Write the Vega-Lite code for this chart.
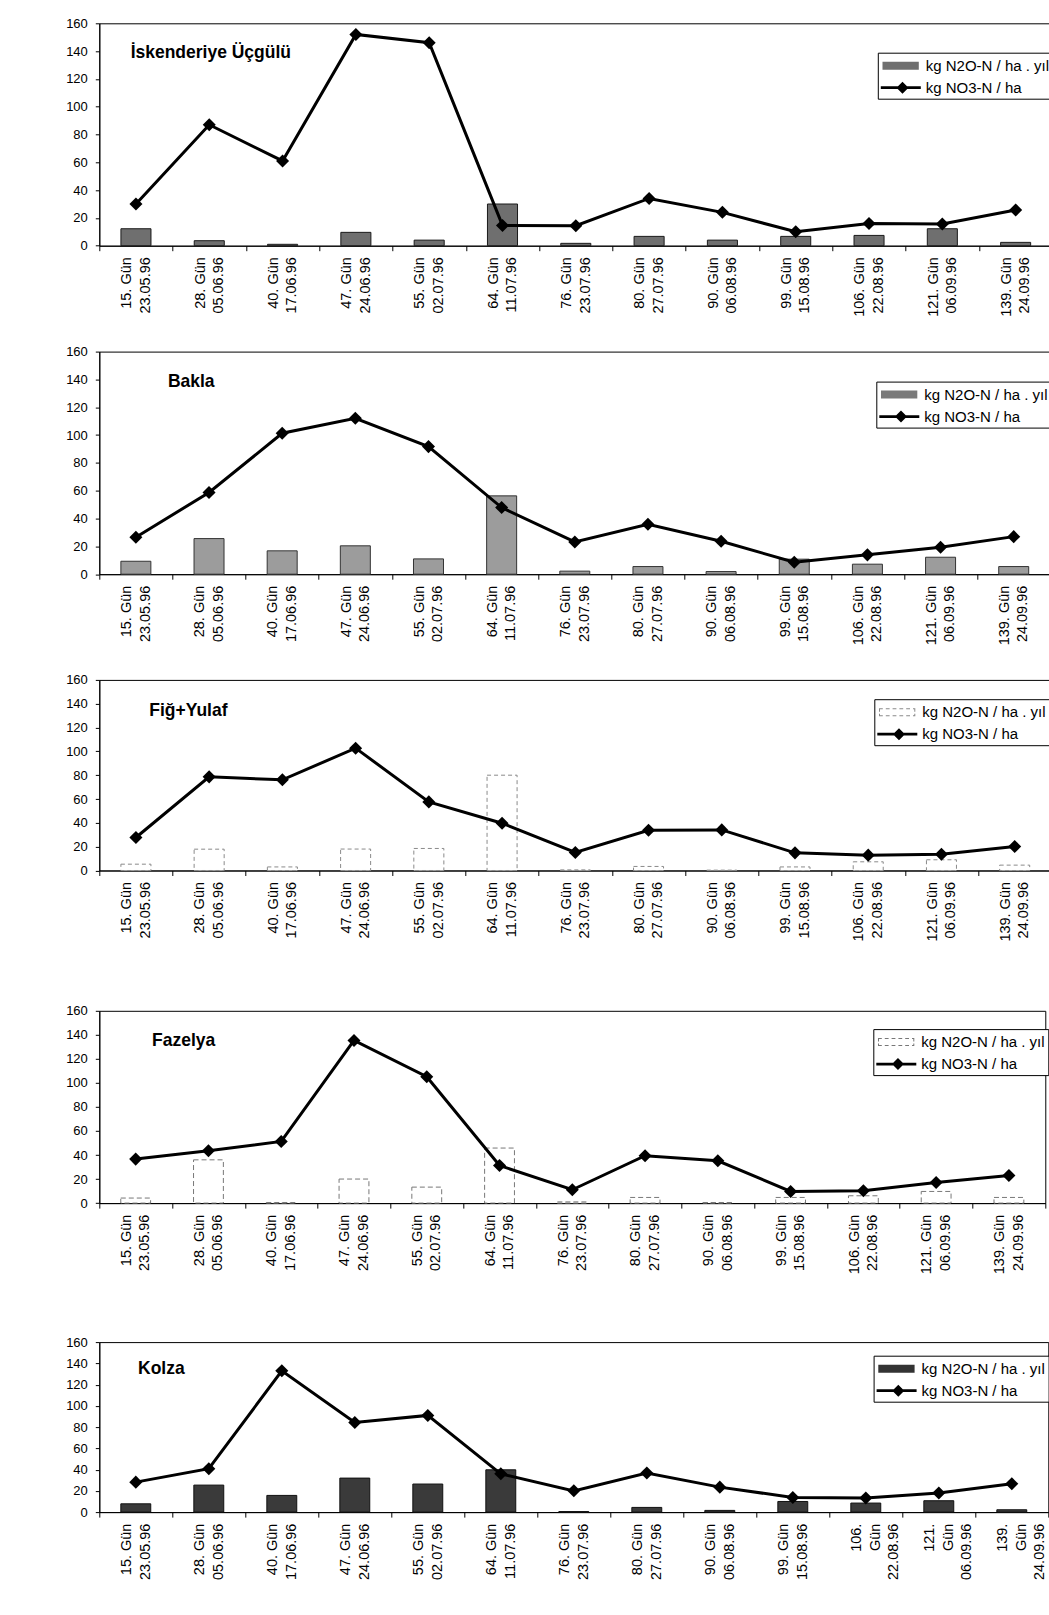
{
  "$schema": "https://vega.github.io/schema/vega-lite/v6.json",
  "background": "white",
  "padding": {"left": 64.3, "top": 16.3, "right": 0, "bottom": 0},
  "datasets": {
    "iskenderiye": [
      {"etiket": "15. Gün|23.05.96", "n2o": 12.2, "no3": 30},
      {"etiket": "28. Gün|05.06.96", "n2o": 3.6, "no3": 87},
      {"etiket": "40. Gün|17.06.96", "n2o": 1, "no3": 61},
      {"etiket": "47. Gün|24.06.96", "n2o": 9.6, "no3": 152},
      {"etiket": "55. Gün|02.07.96", "n2o": 4, "no3": 146},
      {"etiket": "64. Gün|11.07.96", "n2o": 30, "no3": 14.6},
      {"etiket": "76. Gün|23.07.96", "n2o": 1.7, "no3": 14.4},
      {"etiket": "80. Gün|27.07.96", "n2o": 6.7, "no3": 34},
      {"etiket": "90. Gün|06.08.96", "n2o": 4, "no3": 24},
      {"etiket": "99. Gün|15.08.96", "n2o": 6.7, "no3": 10},
      {"etiket": "106. Gün|22.08.96", "n2o": 7.4, "no3": 16},
      {"etiket": "121. Gün|06.09.96", "n2o": 12.2, "no3": 15.6},
      {"etiket": "139. Gün|24.09.96", "n2o": 2.4, "no3": 25.7}
    ],
    "bakla": [
      {"etiket": "15. Gün|23.05.96", "n2o": 9.3, "no3": 26.6},
      {"etiket": "28. Gün|05.06.96", "n2o": 25.6, "no3": 58.7},
      {"etiket": "40. Gün|17.06.96", "n2o": 16.8, "no3": 101.3},
      {"etiket": "47. Gün|24.06.96", "n2o": 20.4, "no3": 112.1},
      {"etiket": "55. Gün|02.07.96", "n2o": 11, "no3": 91.7},
      {"etiket": "64. Gün|11.07.96", "n2o": 56.3, "no3": 47.9},
      {"etiket": "76. Gün|23.07.96", "n2o": 2.2, "no3": 23.2},
      {"etiket": "80. Gün|27.07.96", "n2o": 5.5, "no3": 35.9},
      {"etiket": "90. Gün|06.08.96", "n2o": 1.9, "no3": 23.7},
      {"etiket": "99. Gün|15.08.96", "n2o": 10.8, "no3": 8.6},
      {"etiket": "106. Gün|22.08.96", "n2o": 7.2, "no3": 13.9},
      {"etiket": "121. Gün|06.09.96", "n2o": 12.2, "no3": 19.4},
      {"etiket": "139. Gün|24.09.96", "n2o": 5.5, "no3": 27}
    ],
    "fig_yulaf": [
      {"etiket": "15. Gün|23.05.96", "n2o": 5.3, "no3": 27.7},
      {"etiket": "28. Gün|05.06.96", "n2o": 17.9, "no3": 78.6},
      {"etiket": "40. Gün|17.06.96", "n2o": 3, "no3": 76.1},
      {"etiket": "47. Gün|24.06.96", "n2o": 18, "no3": 102.7},
      {"etiket": "55. Gün|02.07.96", "n2o": 18.5, "no3": 57.6},
      {"etiket": "64. Gün|11.07.96", "n2o": 80, "no3": 39.7},
      {"etiket": "76. Gün|23.07.96", "n2o": 0.5, "no3": 15.1},
      {"etiket": "80. Gün|27.07.96", "n2o": 3.4, "no3": 33.8},
      {"etiket": "90. Gün|06.08.96", "n2o": 0.3, "no3": 34.1},
      {"etiket": "99. Gün|15.08.96", "n2o": 3, "no3": 14.8},
      {"etiket": "106. Gün|22.08.96", "n2o": 7.3, "no3": 12.9},
      {"etiket": "121. Gün|06.09.96", "n2o": 9, "no3": 13.7},
      {"etiket": "139. Gün|24.09.96", "n2o": 4.5, "no3": 20.1}
    ],
    "fazelya": [
      {"etiket": "15. Gün|23.05.96", "n2o": 4.2, "no3": 36.6},
      {"etiket": "28. Gün|05.06.96", "n2o": 36, "no3": 43.5},
      {"etiket": "40. Gün|17.06.96", "n2o": 0.5, "no3": 51.3},
      {"etiket": "47. Gün|24.06.96", "n2o": 20, "no3": 135.3},
      {"etiket": "55. Gün|02.07.96", "n2o": 13.3, "no3": 105.1},
      {"etiket": "64. Gün|11.07.96", "n2o": 45.8, "no3": 31.3},
      {"etiket": "76. Gün|23.07.96", "n2o": 1, "no3": 11.1},
      {"etiket": "80. Gün|27.07.96", "n2o": 4.7, "no3": 39.4},
      {"etiket": "90. Gün|06.08.96", "n2o": 0.5, "no3": 35.2},
      {"etiket": "99. Gün|15.08.96", "n2o": 4.7, "no3": 9.7},
      {"etiket": "106. Gün|22.08.96", "n2o": 6.1, "no3": 10.3},
      {"etiket": "121. Gün|06.09.96", "n2o": 9.7, "no3": 17.2},
      {"etiket": "139. Gün|24.09.96", "n2o": 4.7, "no3": 23}
    ],
    "kolza": [
      {"etiket": "15. Gün|23.05.96", "n2o": 7.8, "no3": 28.2},
      {"etiket": "28. Gün|05.06.96", "n2o": 25.4, "no3": 40.8},
      {"etiket": "40. Gün|17.06.96", "n2o": 15.7, "no3": 133},
      {"etiket": "47. Gün|24.06.96", "n2o": 32, "no3": 84.4},
      {"etiket": "55. Gün|02.07.96", "n2o": 26.4, "no3": 91},
      {"etiket": "64. Gün|11.07.96", "n2o": 39.8, "no3": 36},
      {"etiket": "76. Gün|23.07.96", "n2o": 0.5, "no3": 20},
      {"etiket": "80. Gün|27.07.96", "n2o": 4.4, "no3": 36.7},
      {"etiket": "90. Gün|06.08.96", "n2o": 1.6, "no3": 23.5},
      {"etiket": "99. Gün|15.08.96", "n2o": 10, "no3": 13.8},
      {"etiket": "106. Gün|22.08.96", "n2o": 8.5, "no3": 13.2},
      {"etiket": "121. Gün|06.09.96", "n2o": 10.7, "no3": 17.9},
      {"etiket": "139. Gün|24.09.96", "n2o": 2.2, "no3": 26.7}
    ]
  },
  "config": {
    "view": {"stroke": "black", "strokeWidth": 1},
    "font": "Liberation Sans",
    "axis": {"labelFont": "Liberation Sans", "labelColor": "black", "tickColor": "black", "domainColor": "black", "grid": false, "domainWidth": 1, "tickWidth": 1},
    "axisX": {"labelAngle": 270, "labelAlign": "right", "labelBaseline": "middle", "labelFontSize": 14.5, "labelLineHeight": 18.5, "labelPadding": 6, "labelOffset": -9.25, "tickSize": 5, "tickBand": "extent", "labelOverlap": false},
    "axisY": {"labelFontSize": 13, "labelPadding": 8, "tickSize": 4, "labelOverlap": false, "tickCount": 20},
    "legend": {"direction": "vertical", "padding": 3, "rowPadding": 4, "strokeColor": "black", "fillColor": "white", "symbolSize": 400, "symbolStrokeWidth": 0, "symbolStrokeColor": "transparent", "symbolOpacity": 1, "labelOffset": 25, "labelFontSize": 15, "labelFont": "Liberation Sans", "labelColor": "black", "labelLimit": 400}
  },
  "concat": [
    {
      "concat": [
        {
          "width": 953, "height": 222.4,
          "data": {"name": "iskenderiye"},
          "layer": [
            {
              "mark": {"type": "bar", "width": {"band": 0.41}, "fill": "#6f6f6f", "stroke": "#1a1a1a", "strokeWidth": 1},
              "encoding": {
                "x": {"field": "etiket", "type": "nominal", "scale": {"domain": ["15. Gün|23.05.96","28. Gün|05.06.96","40. Gün|17.06.96","47. Gün|24.06.96","55. Gün|02.07.96","64. Gün|11.07.96","76. Gün|23.07.96","80. Gün|27.07.96","90. Gün|06.08.96","99. Gün|15.08.96","106. Gün|22.08.96","121. Gün|06.09.96","139. Gün|24.09.96"], "paddingInner": 0, "paddingOuter": 0}, "axis": {"title": null, "labelExpr": "split(datum.label, '|')"}},
                "y": {"field": "n2o", "type": "quantitative", "scale": {"domain": [0, 160], "nice": false}, "axis": {"title": null, "values": [0, 20, 40, 60, 80, 100, 120, 140, 160], "tickCount": 20, "labelOverlap": false}}
              }
            },
            {
              "mark": {"type": "line", "strokeWidth": 3, "color": "black", "point": {"shape": "diamond", "size": 170, "filled": true, "color": "black"}},
              "encoding": {"x": {"field": "etiket", "type": "nominal"}, "y": {"field": "no3", "type": "quantitative", "axis": {"title": null, "values": [0, 20, 40, 60, 80, 100, 120, 140, 160], "tickCount": 20, "labelOverlap": false}}}
            },
            {
              "mark": {"type": "point", "filled": true, "opacity": 0},
              "encoding": {
                "x": {"field": "etiket", "type": "nominal"},
                "y": {"field": "no3", "type": "quantitative", "axis": {"title": null, "values": [0, 20, 40, 60, 80, 100, 120, 140, 160], "tickCount": 20, "labelOverlap": false}},
                "fill": {"datum": "kg NO3-N / ha", "type": "nominal", "scale": {"domain": ["kg N2O-N / ha . yıl", "kg NO3-N / ha"], "range": ["#6f6f6f", "black"]}, "legend": {"title": null, "orient": "none", "legendX": 778.5, "legendY": 29.4}},
                "shape": {"datum": "kg NO3-N / ha", "type": "nominal", "scale": {"domain": ["kg N2O-N / ha . yıl", "kg NO3-N / ha"], "range": ["M-0.83,-0.4H2.8V0.4H-0.83Z", "M-1,-0.14H3V0.14H-1ZM0.57,0L1.17,-0.6L1.77,0L1.17,0.6Z"]}, "legend": {"title": null, "orient": "none", "legendX": 778.5, "legendY": 29.4}}
              }
            },
            {
              "data": {"values": [{"baslik": "İskenderiye Üçgülü"}]},
              "mark": {"type": "text", "align": "left", "baseline": "middle", "dx": -5.3, "font": "Liberation Sans", "fontSize": 17.5, "fontWeight": "bold", "color": "black"},
              "encoding": {"x": {"datum": "15. Gün|23.05.96", "type": "nominal"}, "y": {"datum": 138.4, "type": "quantitative", "axis": {"title": null, "values": [0, 20, 40, 60, 80, 100, 120, 140, 160], "tickCount": 20, "labelOverlap": false}}, "text": {"field": "baslik"}}
            }
          ]
        },
        {
          "width": 951, "height": 222.6,
          "data": {"name": "bakla"},
          "layer": [
            {
              "mark": {"type": "bar", "width": {"band": 0.41}, "fill": "#9c9c9c", "stroke": "#333333", "strokeWidth": 1},
              "encoding": {
                "x": {"field": "etiket", "type": "nominal", "scale": {"domain": ["15. Gün|23.05.96","28. Gün|05.06.96","40. Gün|17.06.96","47. Gün|24.06.96","55. Gün|02.07.96","64. Gün|11.07.96","76. Gün|23.07.96","80. Gün|27.07.96","90. Gün|06.08.96","99. Gün|15.08.96","106. Gün|22.08.96","121. Gün|06.09.96","139. Gün|24.09.96"], "paddingInner": 0, "paddingOuter": 0}, "axis": {"title": null, "labelExpr": "split(datum.label, '|')"}},
                "y": {"field": "n2o", "type": "quantitative", "scale": {"domain": [0, 160], "nice": false}, "axis": {"title": null, "values": [0, 20, 40, 60, 80, 100, 120, 140, 160], "tickCount": 20, "labelOverlap": false}}
              }
            },
            {
              "mark": {"type": "line", "strokeWidth": 3, "color": "black", "point": {"shape": "diamond", "size": 170, "filled": true, "color": "black"}},
              "encoding": {"x": {"field": "etiket", "type": "nominal"}, "y": {"field": "no3", "type": "quantitative", "axis": {"title": null, "values": [0, 20, 40, 60, 80, 100, 120, 140, 160], "tickCount": 20, "labelOverlap": false}}}
            },
            {
              "mark": {"type": "point", "filled": true, "opacity": 0},
              "encoding": {
                "x": {"field": "etiket", "type": "nominal"},
                "y": {"field": "no3", "type": "quantitative", "axis": {"title": null, "values": [0, 20, 40, 60, 80, 100, 120, 140, 160], "tickCount": 20, "labelOverlap": false}},
                "fill": {"datum": "kg NO3-N / ha", "type": "nominal", "scale": {"domain": ["kg N2O-N / ha . yıl", "kg NO3-N / ha"], "range": ["#7a7a7a", "black"]}, "legend": {"title": null, "orient": "none", "legendX": 777, "legendY": 30}},
                "shape": {"datum": "kg NO3-N / ha", "type": "nominal", "scale": {"domain": ["kg N2O-N / ha . yıl", "kg NO3-N / ha"], "range": ["M-0.83,-0.4H2.8V0.4H-0.83Z", "M-1,-0.14H3V0.14H-1ZM0.57,0L1.17,-0.6L1.77,0L1.17,0.6Z"]}, "legend": {"title": null, "orient": "none", "legendX": 777, "legendY": 30}}
              }
            },
            {
              "data": {"values": [{"baslik": "Bakla"}]},
              "mark": {"type": "text", "align": "left", "baseline": "middle", "dx": 32, "font": "Liberation Sans", "fontSize": 17.5, "fontWeight": "bold", "color": "black"},
              "encoding": {"x": {"datum": "15. Gün|23.05.96", "type": "nominal"}, "y": {"datum": 138.4, "type": "quantitative", "axis": {"title": null, "values": [0, 20, 40, 60, 80, 100, 120, 140, 160], "tickCount": 20, "labelOverlap": false}}, "text": {"field": "baslik"}}
            }
          ]
        },
        {
          "width": 952, "height": 190.6,
          "data": {"name": "fig_yulaf"},
          "layer": [
            {
              "mark": {"type": "bar", "width": {"band": 0.41}, "fill": "white", "stroke": "#8a8a8a", "strokeWidth": 1, "strokeDash": [4, 3]},
              "encoding": {
                "x": {"field": "etiket", "type": "nominal", "scale": {"domain": ["15. Gün|23.05.96","28. Gün|05.06.96","40. Gün|17.06.96","47. Gün|24.06.96","55. Gün|02.07.96","64. Gün|11.07.96","76. Gün|23.07.96","80. Gün|27.07.96","90. Gün|06.08.96","99. Gün|15.08.96","106. Gün|22.08.96","121. Gün|06.09.96","139. Gün|24.09.96"], "paddingInner": 0, "paddingOuter": 0}, "axis": {"title": null, "labelExpr": "split(datum.label, '|')"}},
                "y": {"field": "n2o", "type": "quantitative", "scale": {"domain": [0, 160], "nice": false}, "axis": {"title": null, "values": [0, 20, 40, 60, 80, 100, 120, 140, 160], "tickCount": 20, "labelOverlap": false}}
              }
            },
            {
              "mark": {"type": "line", "strokeWidth": 3, "color": "black", "point": {"shape": "diamond", "size": 170, "filled": true, "color": "black"}},
              "encoding": {"x": {"field": "etiket", "type": "nominal"}, "y": {"field": "no3", "type": "quantitative", "axis": {"title": null, "values": [0, 20, 40, 60, 80, 100, 120, 140, 160], "tickCount": 20, "labelOverlap": false}}}
            },
            {
              "mark": {"type": "point", "filled": true, "opacity": 0},
              "encoding": {
                "x": {"field": "etiket", "type": "nominal"},
                "y": {"field": "no3", "type": "quantitative", "axis": {"title": null, "values": [0, 20, 40, 60, 80, 100, 120, 140, 160], "tickCount": 20, "labelOverlap": false}},
                "fill": {"datum": "kg NO3-N / ha", "type": "nominal", "scale": {"domain": ["kg N2O-N / ha . yıl", "kg NO3-N / ha"], "range": ["#8a8a8a", "black"]}, "legend": {"title": null, "orient": "none", "legendX": 775, "legendY": 19.3}},
                "shape": {"datum": "kg NO3-N / ha", "type": "nominal", "scale": {"domain": ["kg N2O-N / ha . yıl", "kg NO3-N / ha"], "range": ["M-0.83,-0.4H-0.45V-0.3H-0.83ZM-0.15,-0.4H0.23V-0.3H-0.15ZM0.53,-0.4H0.91V-0.3H0.53ZM1.21,-0.4H1.59V-0.3H1.21ZM1.89,-0.4H2.27V-0.3H1.89ZM2.57,-0.4H2.8V-0.3H2.57ZM-0.83,0.3H-0.45V0.4H-0.83ZM-0.15,0.3H0.23V0.4H-0.15ZM0.53,0.3H0.91V0.4H0.53ZM1.21,0.3H1.59V0.4H1.21ZM1.89,0.3H2.27V0.4H1.89ZM2.57,0.3H2.8V0.4H2.57ZM-0.83,-0.4H-0.73V-0.05H-0.83ZM-0.83,0.15H-0.73V0.4H-0.83ZM2.7,-0.4H2.8V-0.05H2.7ZM2.7,0.15H2.8V0.4H2.7Z", "M-1,-0.14H3V0.14H-1ZM0.57,0L1.17,-0.6L1.77,0L1.17,0.6Z"]}, "legend": {"title": null, "orient": "none", "legendX": 775, "legendY": 19.3}}
              }
            },
            {
              "data": {"values": [{"baslik": "Fiğ+Yulaf"}]},
              "mark": {"type": "text", "align": "left", "baseline": "middle", "dx": 13.4, "font": "Liberation Sans", "fontSize": 17.5, "fontWeight": "bold", "color": "black"},
              "encoding": {"x": {"datum": "15. Gün|23.05.96", "type": "nominal"}, "y": {"datum": 134, "type": "quantitative", "axis": {"title": null, "values": [0, 20, 40, 60, 80, 100, 120, 140, 160], "tickCount": 20, "labelOverlap": false}}, "text": {"field": "baslik"}}
            }
          ]
        }
      ],
      "columns": 1,
      "spacing": 27.3,
      "resolve": {"scale": {"fill": "independent", "shape": "independent"}}
    },
    {
      "concat": [
        {
          "width": 946, "height": 192.3,
          "data": {"name": "fazelya"},
          "layer": [
            {
              "mark": {"type": "bar", "width": {"band": 0.41}, "fill": "white", "stroke": "#777777", "strokeWidth": 1, "strokeDash": [5, 3]},
              "encoding": {
                "x": {"field": "etiket", "type": "nominal", "scale": {"domain": ["15. Gün|23.05.96","28. Gün|05.06.96","40. Gün|17.06.96","47. Gün|24.06.96","55. Gün|02.07.96","64. Gün|11.07.96","76. Gün|23.07.96","80. Gün|27.07.96","90. Gün|06.08.96","99. Gün|15.08.96","106. Gün|22.08.96","121. Gün|06.09.96","139. Gün|24.09.96"], "paddingInner": 0, "paddingOuter": 0}, "axis": {"title": null, "labelExpr": "split(datum.label, '|')"}},
                "y": {"field": "n2o", "type": "quantitative", "scale": {"domain": [0, 160], "nice": false}, "axis": {"title": null, "values": [0, 20, 40, 60, 80, 100, 120, 140, 160], "tickCount": 20, "labelOverlap": false}}
              }
            },
            {
              "mark": {"type": "line", "strokeWidth": 3, "color": "black", "point": {"shape": "diamond", "size": 170, "filled": true, "color": "black"}},
              "encoding": {"x": {"field": "etiket", "type": "nominal"}, "y": {"field": "no3", "type": "quantitative", "axis": {"title": null, "values": [0, 20, 40, 60, 80, 100, 120, 140, 160], "tickCount": 20, "labelOverlap": false}}}
            },
            {
              "mark": {"type": "point", "filled": true, "opacity": 0},
              "encoding": {
                "x": {"field": "etiket", "type": "nominal"},
                "y": {"field": "no3", "type": "quantitative", "axis": {"title": null, "values": [0, 20, 40, 60, 80, 100, 120, 140, 160], "tickCount": 20, "labelOverlap": false}},
                "fill": {"datum": "kg NO3-N / ha", "type": "nominal", "scale": {"domain": ["kg N2O-N / ha . yıl", "kg NO3-N / ha"], "range": ["#777777", "black"]}, "legend": {"title": null, "orient": "none", "legendX": 774, "legendY": 18.3}},
                "shape": {"datum": "kg NO3-N / ha", "type": "nominal", "scale": {"domain": ["kg N2O-N / ha . yıl", "kg NO3-N / ha"], "range": ["M-0.83,-0.4H-0.45V-0.3H-0.83ZM-0.15,-0.4H0.23V-0.3H-0.15ZM0.53,-0.4H0.91V-0.3H0.53ZM1.21,-0.4H1.59V-0.3H1.21ZM1.89,-0.4H2.27V-0.3H1.89ZM2.57,-0.4H2.8V-0.3H2.57ZM-0.83,0.3H-0.45V0.4H-0.83ZM-0.15,0.3H0.23V0.4H-0.15ZM0.53,0.3H0.91V0.4H0.53ZM1.21,0.3H1.59V0.4H1.21ZM1.89,0.3H2.27V0.4H1.89ZM2.57,0.3H2.8V0.4H2.57ZM-0.83,-0.4H-0.73V-0.05H-0.83ZM-0.83,0.15H-0.73V0.4H-0.83ZM2.7,-0.4H2.8V-0.05H2.7ZM2.7,0.15H2.8V0.4H2.7Z", "M-1,-0.14H3V0.14H-1ZM0.57,0L1.17,-0.6L1.77,0L1.17,0.6Z"]}, "legend": {"title": null, "orient": "none", "legendX": 774, "legendY": 18.3}}
              }
            },
            {
              "data": {"values": [{"baslik": "Fazelya"}]},
              "mark": {"type": "text", "align": "left", "baseline": "middle", "dx": 16.4, "font": "Liberation Sans", "fontSize": 17.5, "fontWeight": "bold", "color": "black"},
              "encoding": {"x": {"datum": "15. Gün|23.05.96", "type": "nominal"}, "y": {"datum": 134.5, "type": "quantitative", "axis": {"title": null, "values": [0, 20, 40, 60, 80, 100, 120, 140, 160], "tickCount": 20, "labelOverlap": false}}, "text": {"field": "baslik"}}
            }
          ]
        },
        {
          "width": 949, "height": 170,
          "data": {"name": "kolza"},
          "layer": [
            {
              "mark": {"type": "bar", "width": {"band": 0.41}, "fill": "#3a3a3a", "stroke": "#111111", "strokeWidth": 1},
              "encoding": {
                "x": {"field": "etiket", "type": "nominal", "scale": {"domain": ["15. Gün|23.05.96","28. Gün|05.06.96","40. Gün|17.06.96","47. Gün|24.06.96","55. Gün|02.07.96","64. Gün|11.07.96","76. Gün|23.07.96","80. Gün|27.07.96","90. Gün|06.08.96","99. Gün|15.08.96","106. Gün|22.08.96","121. Gün|06.09.96","139. Gün|24.09.96"], "paddingInner": 0, "paddingOuter": 0}, "axis": {"title": null, "labelExpr": "indexof(datum.label, '106') === 0 || indexof(datum.label, '121') === 0 || indexof(datum.label, '139') === 0 ? [split(datum.label, ' ')[0], 'Gün', split(datum.label, '|')[1]] : split(datum.label, '|')"}},
                "y": {"field": "n2o", "type": "quantitative", "scale": {"domain": [0, 160], "nice": false}, "axis": {"title": null, "values": [0, 20, 40, 60, 80, 100, 120, 140, 160], "tickCount": 20, "labelOverlap": false}}
              }
            },
            {
              "mark": {"type": "line", "strokeWidth": 3, "color": "black", "point": {"shape": "diamond", "size": 170, "filled": true, "color": "black"}},
              "encoding": {"x": {"field": "etiket", "type": "nominal"}, "y": {"field": "no3", "type": "quantitative", "axis": {"title": null, "values": [0, 20, 40, 60, 80, 100, 120, 140, 160], "tickCount": 20, "labelOverlap": false}}}
            },
            {
              "mark": {"type": "point", "filled": true, "opacity": 0},
              "encoding": {
                "x": {"field": "etiket", "type": "nominal"},
                "y": {"field": "no3", "type": "quantitative", "axis": {"title": null, "values": [0, 20, 40, 60, 80, 100, 120, 140, 160], "tickCount": 20, "labelOverlap": false}},
                "fill": {"datum": "kg NO3-N / ha", "type": "nominal", "scale": {"domain": ["kg N2O-N / ha . yıl", "kg NO3-N / ha"], "range": ["#333333", "black"]}, "legend": {"title": null, "orient": "none", "legendX": 774.3, "legendY": 13.6}},
                "shape": {"datum": "kg NO3-N / ha", "type": "nominal", "scale": {"domain": ["kg N2O-N / ha . yıl", "kg NO3-N / ha"], "range": ["M-0.83,-0.4H2.8V0.4H-0.83Z", "M-1,-0.14H3V0.14H-1ZM0.57,0L1.17,-0.6L1.77,0L1.17,0.6Z"]}, "legend": {"title": null, "orient": "none", "legendX": 774.3, "legendY": 13.6}}
              }
            },
            {
              "data": {"values": [{"baslik": "Kolza"}]},
              "mark": {"type": "text", "align": "left", "baseline": "middle", "dx": 2.2, "font": "Liberation Sans", "fontSize": 17.5, "fontWeight": "bold", "color": "black"},
              "encoding": {"x": {"datum": "15. Gün|23.05.96", "type": "nominal"}, "y": {"datum": 135, "type": "quantitative", "axis": {"title": null, "values": [0, 20, 40, 60, 80, 100, 120, 140, 160], "tickCount": 20, "labelOverlap": false}}, "text": {"field": "baslik"}}
            }
          ]
        }
      ],
      "columns": 1,
      "spacing": 60.3,
      "resolve": {"scale": {"fill": "independent", "shape": "independent"}}
    }
  ],
  "columns": 1,
  "spacing": 61.5,
  "resolve": {"scale": {"fill": "independent", "shape": "independent"}}
}
